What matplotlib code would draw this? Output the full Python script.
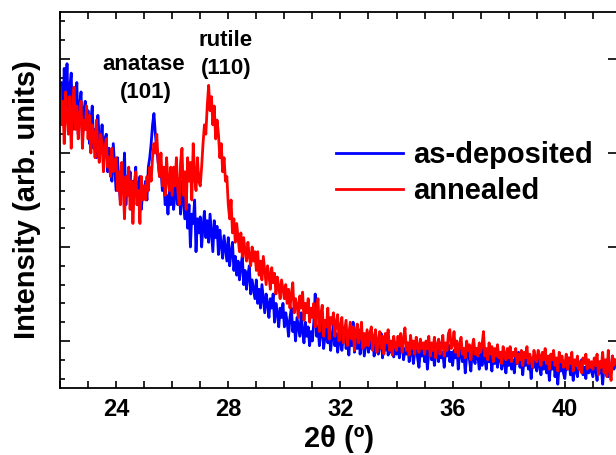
import numpy as np
import matplotlib
matplotlib.use("Agg")
import matplotlib.pyplot as plt
from matplotlib.lines import Line2D

plt.rcParams['font.family'] = ['Liberation Sans', 'DejaVu Sans']
plt.rcParams['font.weight'] = 'bold'

# 2-theta sampling grid (degrees)
two_theta_start = 22.0
two_theta_step = 0.05
n_points = 397
two_theta = np.round(two_theta_start + two_theta_step * np.arange(n_points), 2)

as_deposited = [
    3.40, 3.75, 3.30, 3.90, 3.55, 3.95, 3.35, 3.70, 3.85, 3.25, 3.60, 3.45, 3.75, 3.20, 3.50, 3.65, 3.15, 3.45, 3.55, 3.25,
    3.45, 3.10, 3.35, 3.50, 3.05, 3.25, 2.95, 3.40, 3.15, 3.00, 3.30, 2.90, 3.15, 3.20, 2.80, 3.05, 2.95, 2.70, 3.10, 2.85,
    2.60, 2.95, 2.70, 2.50, 2.85, 2.65, 3.00, 2.45, 2.75, 2.55, 2.80, 2.40, 2.70, 2.60, 2.85, 2.45, 2.65, 2.75, 2.40, 2.60,
    2.55, 2.70, 2.50, 2.85, 2.95, 3.10, 3.30, 3.42, 3.20, 3.05, 2.90, 2.75, 2.85, 2.60, 2.70, 2.45, 2.55, 2.35, 2.60, 2.45,
    2.70, 2.40, 2.55, 2.80, 2.45, 2.65, 2.35, 2.70, 2.50, 2.30, 2.55, 2.20, 2.45, 2.00, 2.35, 2.25, 2.50, 1.95, 2.30, 2.15,
    2.32, 2.00, 2.22, 2.38, 2.10, 2.28, 2.05, 2.35, 2.15, 1.95, 2.28, 2.10, 2.22, 1.92, 2.18, 2.02, 1.88, 2.12, 1.98, 1.85,
    2.10, 1.80, 1.95, 2.05, 1.75, 1.90, 1.70, 1.85, 1.65, 1.80, 1.90, 1.60, 1.75, 1.55, 1.70, 1.80, 1.50, 1.65, 1.55, 1.45,
    1.65, 1.40, 1.55, 1.35, 1.60, 1.45, 1.30, 1.50, 1.40, 1.25, 1.45, 1.35, 1.50, 1.20, 1.40, 1.30, 1.15, 1.35, 1.25, 1.40,
    1.15, 1.30, 1.20, 1.05, 1.25, 1.35, 1.10, 1.20, 1.00, 1.25, 1.15, 1.05, 1.30, 1.10, 0.98, 1.20, 1.05, 1.15, 0.95, 1.10,
    1.00, 1.20, 1.50, 1.05, 1.15, 0.95, 1.10, 1.20, 0.92, 1.05, 1.15, 0.98, 1.10, 0.90, 1.05, 1.18, 0.95, 1.08, 0.88, 1.00,
    1.10, 0.90, 1.05, 1.15, 0.92, 1.00, 0.85, 1.08, 0.95, 1.20, 0.88, 1.02, 0.92, 1.12, 0.86, 0.98, 1.05, 0.84, 0.96, 1.08,
    0.88, 1.00, 0.92, 1.06, 0.84, 0.96, 1.02, 0.86, 0.94, 1.08, 0.82, 0.98, 0.90, 1.04, 0.85, 0.95, 0.88, 1.00, 0.83, 0.96,
    0.86, 0.98, 0.82, 0.94, 1.02, 0.80, 0.92, 0.86, 0.98, 0.78, 0.90, 0.95, 0.76, 0.88, 0.98, 0.82, 0.72, 0.90, 0.84, 0.94,
    0.78, 0.92, 0.70, 0.88, 0.96, 0.80, 0.90, 0.74, 0.86, 0.94, 0.78, 0.98, 0.82, 0.88, 0.72, 0.92, 0.84, 0.96, 0.78, 0.88,
    0.74, 0.90, 0.82, 0.96, 0.70, 0.86, 0.92, 0.78, 0.88, 0.66, 0.84, 0.94, 0.80, 0.68, 0.90, 0.82, 0.76, 0.92, 0.84, 0.70,
    0.86, 0.74, 0.92, 0.80, 0.70, 0.88, 0.78, 0.84, 0.68, 0.90, 0.76, 0.86, 0.72, 0.82, 0.88, 0.70, 0.84, 0.76, 0.66, 0.82,
    0.74, 0.86, 0.70, 0.80, 0.66, 0.84, 0.76, 0.88, 0.72, 0.80, 0.64, 0.82, 0.74, 0.86, 0.70, 0.78, 0.60, 0.80, 0.72, 0.84,
    0.68, 0.82, 0.74, 0.64, 0.80, 0.70, 0.84, 0.66, 0.76, 0.58, 0.78, 0.70, 0.82, 0.62, 0.74, 0.54, 0.76, 0.68, 0.80, 0.66,
    0.60, 0.76, 0.70, 0.82, 0.64, 0.74, 0.58, 0.78, 0.68, 0.62, 0.76, 0.70, 0.80, 0.64, 0.72, 0.60, 0.78, 0.66, 0.74, 0.68,
    0.62, 0.76, 0.70, 0.58, 0.78, 0.66, 0.72, 0.54, 0.74, 0.68, 0.80, 0.62, 0.72, 0.66, 0.84, 0.70, 0.76,
]

annealed = [
    3.70, 3.30, 3.55, 3.10, 3.65, 3.40, 3.20, 3.60, 3.05, 3.45, 3.70, 3.25, 3.50, 3.15, 3.40, 3.55, 3.05, 3.35, 3.25, 3.50,
    3.15, 3.40, 3.00, 3.30, 3.20, 2.95, 3.35, 3.05, 2.90, 3.20, 3.10, 2.80, 3.05, 3.15, 2.85, 2.95, 2.75, 3.05, 2.80, 2.90,
    2.95, 2.60, 2.80, 2.45, 2.90, 2.65, 2.30, 2.75, 2.55, 2.85, 2.40, 2.70, 2.25, 2.65, 2.80, 2.45, 2.60, 2.25, 2.75, 2.50,
    2.65, 2.50, 2.75, 2.60, 2.85, 2.70, 2.95, 3.10, 3.00, 3.20, 2.90, 2.75, 3.00, 2.65, 2.85, 2.55, 2.95, 2.70, 2.60, 2.85,
    2.55, 2.85, 2.65, 2.95, 2.60, 2.45, 2.90, 3.05, 2.55, 2.80, 2.40, 2.95, 2.70, 2.90, 2.50, 3.10, 2.75, 2.60, 2.95, 2.70,
    2.65, 2.85, 3.10, 3.30, 3.20, 3.50, 3.72, 3.45, 3.60, 3.30, 3.50, 3.15, 3.35, 3.20, 2.95, 3.10, 2.80, 2.95, 2.70, 2.75,
    2.45, 2.30, 2.50, 2.15, 2.30, 2.05, 2.25, 2.10, 1.95, 2.15, 1.90, 2.10, 1.95, 1.85, 2.05, 1.90, 1.80, 2.00, 1.85, 1.95,
    1.75, 1.95, 1.70, 1.85, 1.65, 1.90, 1.75, 1.60, 1.80, 1.70, 1.55, 1.78, 1.62, 1.72, 1.50, 1.68, 1.58, 1.45, 1.65, 1.55,
    1.45, 1.60, 1.40, 1.55, 1.35, 1.50, 1.62, 1.30, 1.45, 1.38, 1.25, 1.48, 1.35, 1.52, 1.22, 1.40, 1.30, 1.45, 1.20, 1.35,
    1.25, 1.40, 1.15, 1.32, 1.45, 1.10, 1.28, 1.38, 1.05, 1.22, 1.15, 1.35, 1.02, 1.25, 1.18, 1.30, 1.05, 1.20, 1.28, 1.00,
    1.15, 1.25, 0.98, 1.10, 1.22, 0.95, 1.08, 1.20, 1.02, 1.15, 0.90, 1.10, 1.18, 0.98, 1.05, 1.20, 0.92, 1.08, 0.95, 1.12,
    0.95, 1.08, 1.15, 0.90, 1.02, 1.12, 0.88, 1.00, 1.10, 0.92, 1.05, 0.86, 1.08, 0.98, 1.12, 0.90, 1.00, 0.85, 1.05, 0.95,
    0.90, 1.05, 0.95, 1.08, 0.88, 1.02, 1.14, 0.90, 0.98, 0.85, 1.06, 0.92, 1.00, 0.86, 1.04, 0.94, 0.88, 1.02, 0.92, 0.98,
    0.86, 1.00, 0.92, 1.05, 0.84, 0.98, 0.90, 1.04, 0.82, 0.96, 1.02, 0.86, 0.94, 1.06, 0.84, 0.98, 0.90, 1.08, 1.12, 0.92,
    0.96, 1.10, 0.88, 1.00, 0.84, 0.96, 1.04, 0.86, 0.92, 0.82, 1.00, 0.90, 0.96, 0.80, 0.94, 1.02, 0.86, 0.92, 0.84, 0.98,
    0.88, 0.96, 1.10, 0.84, 0.92, 0.80, 0.98, 0.86, 0.94, 0.78, 0.92, 0.84, 0.96, 0.82, 0.88, 0.76, 0.94, 0.86, 0.80, 0.92,
    0.82, 0.94, 0.78, 0.88, 0.84, 0.92, 0.76, 0.86, 0.80, 0.90, 0.74, 0.88, 0.82, 0.94, 0.76, 0.86, 0.80, 0.72, 0.90, 0.82,
    0.78, 0.90, 0.84, 0.74, 0.88, 0.80, 0.92, 0.76, 0.84, 0.70, 0.86, 0.80, 0.90, 0.74, 0.82, 0.68, 0.88, 0.78, 0.84, 0.72,
    0.74, 0.86, 0.70, 0.82, 0.76, 0.88, 0.68, 0.80, 0.74, 0.84, 0.70, 0.78, 0.66, 0.82, 0.76, 0.86, 0.70, 0.80, 0.72, 0.78,
    0.70, 0.82, 0.74, 0.86, 0.64, 0.78, 0.72, 0.88, 0.66, 0.80, 0.62, 0.90, 0.70, 0.58, 0.84, 0.74, 0.80,
]

series_labels = ["as-deposited", "annealed"]
series_colors = ["#0000ff", "#ff0000"]
x_ticks = [24, 28, 32, 36, 40]

fig = plt.figure(figsize=(6.16, 4.55), dpi=100)
ax = fig.add_axes([0.0974, 0.1473, 0.906, 0.8263])

ax.plot(two_theta, as_deposited, color=series_colors[0], lw=2.0)
ax.plot(two_theta, annealed, color=series_colors[1], lw=2.0)

ax.set_xlim(22.0, 41.9)
ax.set_ylim(0.5, 4.5)

ax.set_xticks(x_ticks)
ax.set_xticks(np.arange(22, 42, 1), minor=True)
ax.set_yticks([1, 2, 3, 4])
ax.set_yticks(np.arange(0.6, 4.5, 0.2), minor=True)
ax.tick_params(axis='both', which='both', direction='in', width=1.2)
ax.tick_params(axis='x', which='major', length=5, top=True, labelsize=17, pad=7)
ax.tick_params(axis='x', which='minor', length=5, top=True)
ax.tick_params(axis='y', which='major', length=7, right=True, labelleft=False)
ax.tick_params(axis='y', which='minor', length=3.5, right=False)
for lab in ax.get_xticklabels():
    lab.set_fontweight('bold')
for s in ax.spines.values():
    s.set_linewidth(1.3)

ax.set_xlabel("2θ (º)", fontsize=21, fontweight='bold', labelpad=3)
ax.set_ylabel("Intensity (arb. units)", fontsize=21, fontweight='bold', labelpad=10)

ax.text(25.0, 3.94, "anatase", ha='center', va='center', fontsize=16, fontweight='bold')
ax.text(25.05, 3.64, "(101)", ha='center', va='center', fontsize=16, fontweight='bold')
ax.text(27.92, 4.2, "rutile", ha='center', va='center', fontsize=16, fontweight='bold')
ax.text(27.92, 3.9, "(110)", ha='center', va='center', fontsize=16, fontweight='bold')

handles = [Line2D([], [], color=c, lw=2) for c in series_colors]
fig.legend(handles, series_labels, loc='upper left', bbox_to_anchor=(336 / 616, 1 - 141 / 455),
           frameon=False, handlelength=2.3, handletextpad=0.35, borderpad=0, borderaxespad=0,
           labelspacing=0.28, prop={'weight': 'bold', 'size': 21})

fig.savefig("out.png", dpi=100)
